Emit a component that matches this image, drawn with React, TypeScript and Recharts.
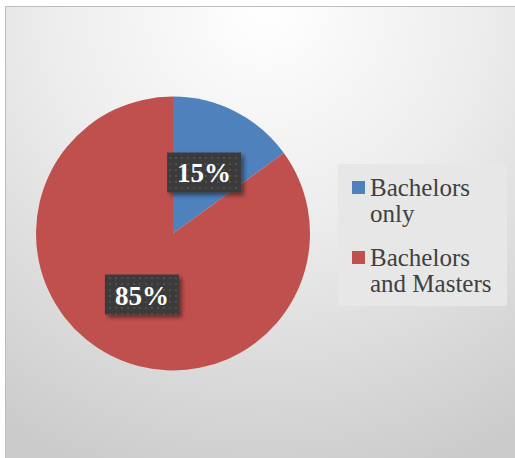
import React from 'react';
import { PieChart, Pie, Cell, Legend } from 'recharts';

const categories = ['Bachelors only', 'Bachelors and Masters'];
const shares = [15, 85];
const colors = ['#4f81bd', '#c0504d'];

const data = categories.map((name, i) => ({ name, value: shares[i] }));

const RAD = Math.PI / 180;

const renderLabel = (props: any) => {
  const { cx, cy, midAngle, outerRadius, percent, index } = props;
  const r = outerRadius * 0.5;
  const x = cx + r * Math.cos(-midAngle * RAD);
  const y = cy + r * Math.sin(-midAngle * RAD);
  const w = 74;
  const h = 40;
  const pid = `dots-${index}`;
  const fid = `shadow-${index}`;
  return (
    <g>
      <defs>
        <pattern id={pid} x={0} y={0} width={6} height={6} patternUnits="userSpaceOnUse">
          <rect x={0} y={0} width={6} height={6} fill="#3b3b3b" />
          <rect x={1} y={1} width={2} height={2} fill="#4f4f4f" />
        </pattern>
        <filter id={fid} x="-20%" y="-20%" width="150%" height="160%">
          <feDropShadow dx={3} dy={3} stdDeviation={2} floodColor="#000" floodOpacity={0.45} />
        </filter>
      </defs>
      <rect x={x - w / 2} y={y - h / 2} width={w} height={h} fill={`url(#${pid})`} filter={`url(#${fid})`} />
      <text
        x={x}
        y={y + 1}
        textAnchor="middle"
        dominantBaseline="central"
        fill="#ffffff"
        fontFamily="'Liberation Serif', serif"
        fontWeight="bold"
        fontSize={27}
      >
        {`${Math.round(percent * 100)}%`}
      </text>
    </g>
  );
};

const LegendContent = () => {
  return (
    <div
      style={{
        width: 169,
        height: 142,
        background: '#e7e7e7',
        boxSizing: 'border-box',
        paddingTop: 11,
        paddingLeft: 14,
        fontFamily: "'Liberation Serif', serif",
        fontSize: 25,
        lineHeight: '26px',
        color: '#404040',
      }}
    >
      {categories.map((name, i) => (
        <div key={name} style={{ display: 'flex', alignItems: 'flex-start', marginBottom: i === 0 ? 18 : 0 }}>
          <div
            style={{
              width: 13,
              height: 13,
              background: colors[i],
              marginTop: 6,
              marginRight: 5,
              flexShrink: 0,
            }}
          />
          <div style={{ width: 140 }}>{name}</div>
        </div>
      ))}
    </div>
  );
};

export default function App() {
  return (
    <div style={{ position: 'fixed', left: 0, top: 0, width: 515, height: 458, background: '#ffffff', overflow: 'hidden' }}>
      <div
        style={{
          position: 'absolute',
          left: 5,
          top: 6,
          width: 520,
          height: 470,
          boxSizing: 'border-box',
          border: '1px solid #bdbdbd',
          background: 'radial-gradient(ellipse 95% 105% at 50% 0%, #ffffff 0%, #ececec 45%, #cbcbcb 100%)',
        }}
      />
      <div style={{ position: 'absolute', left: 0, top: 0 }}>
        <PieChart width={515} height={458} margin={{ top: 0, right: 0, bottom: 0, left: 0 }}>
          <Pie
            data={data}
            dataKey="value"
            nameKey="name"
            cx={173}
            cy={233.5}
            outerRadius={137}
            startAngle={90}
            endAngle={-270}
            stroke="none"
            label={renderLabel}
            labelLine={false}
            isAnimationActive={false}
          >
            {data.map((d, i) => (
              <Cell key={d.name} fill={colors[i]} />
            ))}
          </Pie>
          <Legend
            content={<LegendContent />}
            wrapperStyle={{ position: 'absolute', left: 338, top: 164, width: 169, height: 142 }}
          />
        </PieChart>
      </div>
    </div>
  );
}
